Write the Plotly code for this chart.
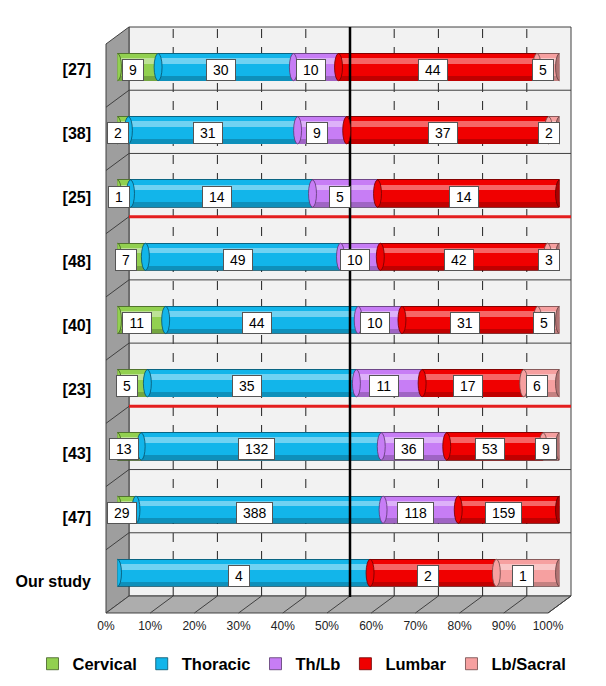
import plotly.graph_objects as go
import numpy as np

# studies, top to bottom
studies = ["[27]", "[38]", "[25]", "[48]", "[40]", "[23]", "[43]", "[47]", "Our study"]
levels = ["Cervical", "Thoracic", "Th/Lb", "Lumbar", "Lb/Sacral"]

cervical = [9, 2, 1, 7, 11, 5, 13, 29, 0]
thoracic = [30, 31, 14, 49, 44, 35, 132, 388, 4]
th_lb = [10, 9, 5, 10, 10, 11, 36, 118, 0]
lumbar = [44, 37, 14, 42, 31, 17, 53, 159, 2]
lb_sacral = [5, 2, 0, 3, 5, 6, 9, 0, 1]

tick_vals = [0, 10, 20, 30, 40, 50, 60, 70, 80, 90, 100]
tick_text = ["0%", "10%", "20%", "30%", "40%", "50%", "60%", "70%", "80%", "90%", "100%"]

colors = ["#92D050", "#12B5EA", "#C77DF5", "#F00000", "#F6A0A0"]

# the page puts the plot 8px in from the window corner
OFF = 8
W, H = 606 - OFF, 686 - OFF


def px(x):
    return (x - OFF) / W


def py(y):
    return 1 - (y - OFF) / H


def shade(hex_color, f):
    c = [int(hex_color[i:i + 2], 16) for i in (1, 3, 5)]
    if f < 1:
        c = [int(v * f) for v in c]
    else:
        c = [int(v + (255 - v) * (f - 1)) for v in c]
    return "#%02X%02X%02X" % tuple(c)


counts = np.array([cervical, thoracic, th_lb, lumbar, lb_sacral], dtype=float).T
pct = counts / counts.sum(axis=1, keepdims=True) * 100
starts = np.cumsum(pct, axis=1) - pct

# 3d box geometry (pixels of the reference window)
back_l, back_r, back_t, back_b = 129, 571, 27, 596
dx, dy = 23, 17
band = (back_b - back_t) / len(studies)
bar_w = 0.43

fig = go.Figure()

for j, name in enumerate(levels):
    fig.add_trace(go.Bar(
        y=studies, x=pct[:, j], orientation="h", name=name, width=bar_w,
        marker=dict(color=colors[j], line=dict(color=shade(colors[j], 0.45), width=0.8)),
        hoverinfo="skip", xaxis="x", yaxis="y",
    ))
# light band across the upper part of the cylinders
for j, name in enumerate(levels):
    fig.add_trace(go.Bar(
        y=studies, x=pct[:, j], orientation="h", showlegend=False,
        width=0.09, offset=-0.15,
        marker=dict(color=shade(colors[j], 1.4), line=dict(width=0)),
        hoverinfo="skip", xaxis="x3", yaxis="y3",
    ))
# darker band along the bottom
for j, name in enumerate(levels):
    fig.add_trace(go.Bar(
        y=studies, x=pct[:, j], orientation="h", showlegend=False,
        width=0.075, offset=0.13,
        marker=dict(color=shade(colors[j], 0.8), line=dict(width=0)),
        hoverinfo="skip", xaxis="x4", yaxis="y4",
    ))

# invisible trace so the front-plane category axis gets its labels
fig.add_trace(go.Scatter(x=[0] * len(studies), y=studies, mode="markers",
                         marker=dict(opacity=0), showlegend=False,
                         hoverinfo="skip", xaxis="x2", yaxis="y2"))

shapes = []
# back wall
shapes.append(dict(type="rect", xref="paper", yref="paper",
                   x0=px(back_l), x1=px(back_r), y0=py(back_b), y1=py(back_t),
                   fillcolor="#F2F2F2", line=dict(color="#404040", width=1), layer="below"))
# side wall
side = "M %f %f L %f %f L %f %f L %f %f Z" % (
    px(back_l), py(back_t), px(back_l - dx), py(back_t + dy),
    px(back_l - dx), py(back_b + dy), px(back_l), py(back_b))
shapes.append(dict(type="path", xref="paper", yref="paper", path=side,
                   fillcolor="#9E9E9E", line=dict(color="#404040", width=1), layer="below"))
# floor
floor = "M %f %f L %f %f L %f %f L %f %f Z" % (
    px(back_l), py(back_b), px(back_r), py(back_b),
    px(back_r - dx), py(back_b + dy), px(back_l - dx), py(back_b + dy))
shapes.append(dict(type="path", xref="paper", yref="paper", path=floor,
                   fillcolor="#ADADAD", line=dict(color="#404040", width=1), layer="below"))

step = (back_r - back_l) / 10
for k in range(1, 10):
    x = back_l + k * step
    if k != 5:
        shapes.append(dict(type="line", xref="paper", yref="paper",
                           x0=px(x), x1=px(x), y0=py(back_b), y1=py(back_t),
                           line=dict(color="#222222", width=1, dash="dash"), layer="below"))
for k in range(1, 11):
    x = back_l + k * step
    shapes.append(dict(type="line", xref="paper", yref="paper",
                       x0=px(x), x1=px(x - dx), y0=py(back_b), y1=py(back_b + dy),
                       line=dict(color="#404040", width=1), layer="below"))
for k in range(1, len(studies)):
    y = back_t + k * band
    red = k in (3, 6)
    shapes.append(dict(type="line", xref="paper", yref="paper",
                       x0=px(back_l), x1=px(back_l - dx), y0=py(y), y1=py(y + dy),
                       line=dict(color="#404040", width=1), layer="below"))
    shapes.append(dict(type="line", xref="paper", yref="paper",
                       x0=px(back_l), x1=px(back_r), y0=py(y), y1=py(y),
                       line=dict(color="#E41E1E" if red else "#404040", width=3 if red else 1),
                       layer="above" if red else "below"))

# black 50% line on top of the bars
x50 = back_l + 5 * step
shapes.append(dict(type="line", xref="paper", yref="paper",
                   x0=px(x50), x1=px(x50), y0=py(back_b + 1), y1=py(back_t),
                   line=dict(color="black", width=2.5), layer="above"))

# cylinder caps
cap = 0.9
for i in range(len(studies)):
    last = None
    for j in range(len(levels)):
        if counts[i, j] > 0:
            s = starts[i, j]
            shapes.append(dict(type="circle", xref="x", yref="y",
                               x0=s - cap, x1=s + cap, y0=i - bar_w / 2, y1=i + bar_w / 2,
                               fillcolor=colors[j], line=dict(color=shade(colors[j], 0.45), width=0.8)))
            last = j
    shapes.append(dict(type="circle", xref="x", yref="y",
                       x0=100 - cap, x1=100 + cap, y0=i - bar_w / 2, y1=i + bar_w / 2,
                       fillcolor=shade(colors[last], 0.72), line=dict(color=shade(colors[last], 0.4), width=0.8)))

annotations = []
for i, st in enumerate(studies):
    for j in range(len(levels)):
        if counts[i, j] > 0:
            txt = str(int(counts[i, j]))
            annotations.append(dict(
                x=starts[i, j] + pct[i, j] / 2, y=i, xref="x", yref="y",
                text=txt, showarrow=False, xshift=-5, yshift=-3,
                width=7.8 * len(txt) + 8, height=16,
                font=dict(family="Arial, Liberation Sans", size=14, color="black"),
                bgcolor="white", bordercolor="#555555", borderwidth=1, borderpad=2,
            ))

mid_l, mid_r = back_l - dx / 2, back_r - dx / 2
mid_t, mid_b = back_t + dy / 2, back_b + dy / 2
front_l, front_r = back_l - dx, back_r - dx
lab_t, lab_b = 37, back_b + dy

fig.update_layout(
    width=W, height=H,
    margin=dict(l=0, r=0, t=0, b=0, autoexpand=False),
    paper_bgcolor="white", plot_bgcolor="rgba(0,0,0,0)",
    barmode="stack", bargap=0,
    font=dict(family="Arial, Liberation Sans", color="black"),
    xaxis=dict(domain=[px(mid_l), px(mid_r)], range=[0, 100], visible=False,
               fixedrange=True, automargin=False),
    yaxis=dict(domain=[py(mid_b), py(mid_t)], type="category", categoryarray=studies,
               range=[len(studies) - 0.5, -0.5], visible=False, fixedrange=True,
               automargin=False),
    xaxis3=dict(overlaying="x", range=[0, 100], visible=False, automargin=False),
    yaxis3=dict(overlaying="y", type="category", categoryarray=studies,
                range=[len(studies) - 0.5, -0.5], visible=False, automargin=False),
    xaxis4=dict(overlaying="x", range=[0, 100], visible=False, automargin=False),
    yaxis4=dict(overlaying="y", type="category", categoryarray=studies,
                range=[len(studies) - 0.5, -0.5], visible=False, automargin=False),
    xaxis2=dict(domain=[px(front_l), px(front_r)], range=[0, 100], anchor="y2",
                tickmode="array", tickvals=tick_vals, ticktext=tick_text, showgrid=False,
                zeroline=False, showline=False, ticks="", ticklabelstandoff=4,
                automargin=False, tickfont=dict(size=12, color="#222222")),
    yaxis2=dict(domain=[py(lab_b), py(lab_t)], anchor="x2", type="category",
                categoryarray=studies, range=[len(studies) - 0.5, -0.5],
                showgrid=False, zeroline=False, showline=False, ticks="",
                automargin=False, ticklabelstandoff=14,
                tickfont=dict(size=16, color="black", weight="bold")),
    legend=dict(orientation="h", x=px(302), xanchor="center", y=py(664), yanchor="middle",
                font=dict(size=16.5, weight="bold"), itemwidth=30, traceorder="normal"),
    shapes=shapes,
    annotations=annotations,
    showlegend=True,
)

fig.write_html("out.html")
